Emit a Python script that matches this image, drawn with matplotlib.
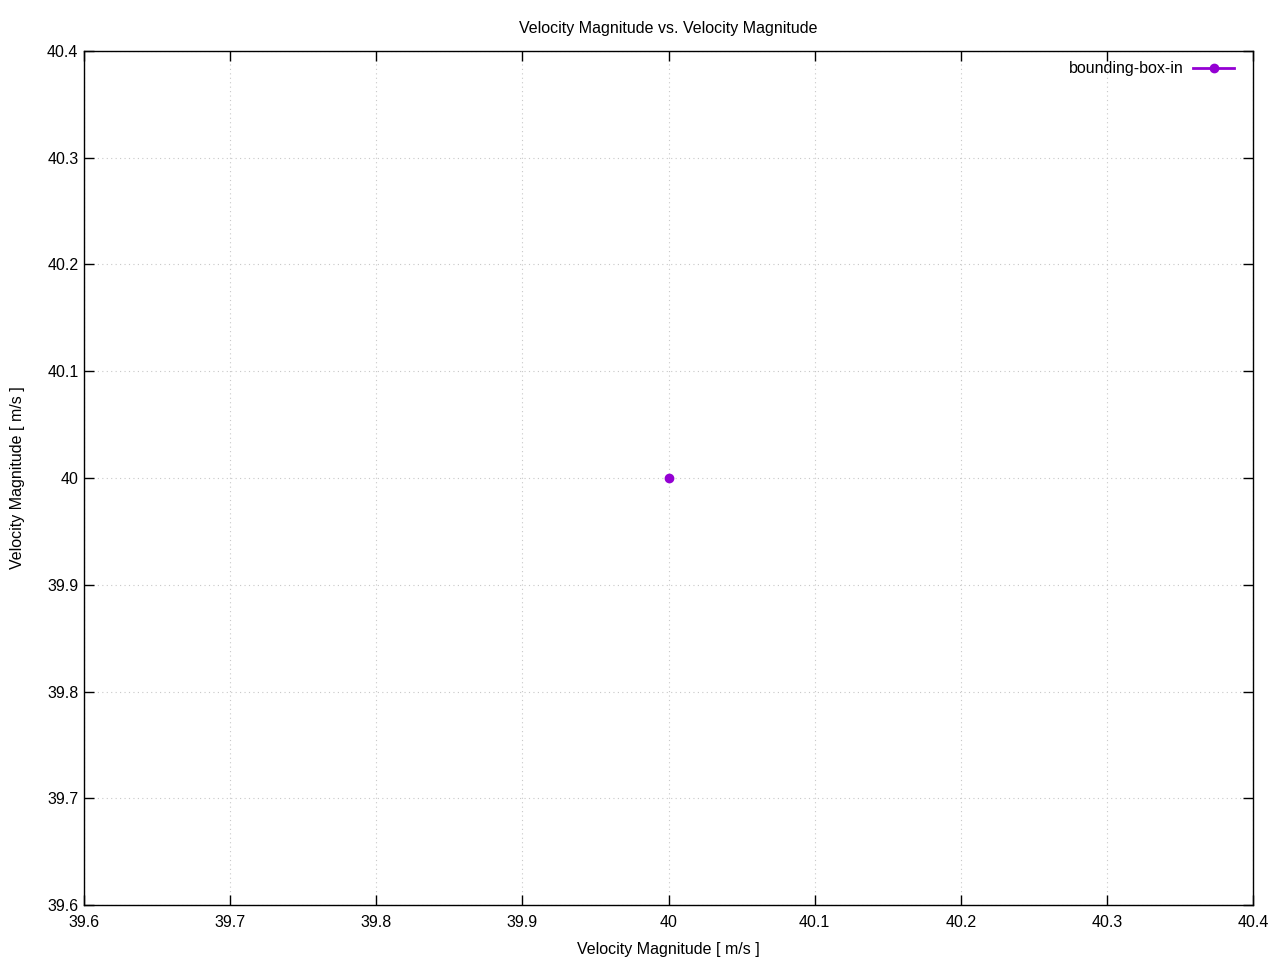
import numpy as np
import matplotlib
matplotlib.use('Agg')
import matplotlib.pyplot as plt

# Data
x_vals = [40.0]
y_vals = [40.0]
series_label = 'bounding-box-in'
x_ticks = [39.6, 39.7, 39.8, 39.9, 40.0, 40.1, 40.2, 40.3, 40.4]
y_ticks = [39.6, 39.7, 39.8, 39.9, 40.0, 40.1, 40.2, 40.3, 40.4]
tick_labels = ['39.6', '39.7', '39.8', '39.9', '40', '40.1', '40.2', '40.3', '40.4']

plt.rcParams['font.family'] = ['Liberation Sans', 'DejaVu Sans']

fig = plt.figure(figsize=(12.8, 9.6), dpi=100)
ax = fig.add_axes([84 / 1280, 1 - 905 / 960, (1253 - 84) / 1280, (905 - 51) / 960])

ax.plot(x_vals, y_vals, color='#9400d3', marker='o', markersize=6, linewidth=2, label=series_label)

ax.set_xlim(39.6, 40.4)
ax.set_ylim(39.6, 40.4)
ax.set_xticks(x_ticks)
ax.set_xticklabels(tick_labels)
ax.set_yticks(y_ticks)
ax.set_yticklabels(tick_labels)
ax.tick_params(direction='in', top=True, right=True, length=7, width=1, labelsize=11.5)
ax.tick_params(axis='x', pad=7.5)
ax.tick_params(axis='y', pad=4)
ax.grid(True, color='#c8c8c8', linestyle=(0, (1, 3)), linewidth=0.8)
for s in ax.spines.values():
    s.set_linewidth(1)

ax.set_xlabel('Velocity Magnitude [ m/s ]', fontsize=11.5, labelpad=8)
ax.set_ylabel('Velocity Magnitude [ m/s ]', fontsize=11.5, labelpad=16)
ax.set_title('Velocity Magnitude vs. Velocity Magnitude', fontsize=11.5, pad=13)

leg = ax.legend(loc='upper right', frameon=False, fontsize=11.5, markerfirst=False,
                handlelength=2.6, borderaxespad=0.25, handletextpad=0.6,
                bbox_to_anchor=(0.993, 1.0))

plt.savefig('out.png', dpi=100)
